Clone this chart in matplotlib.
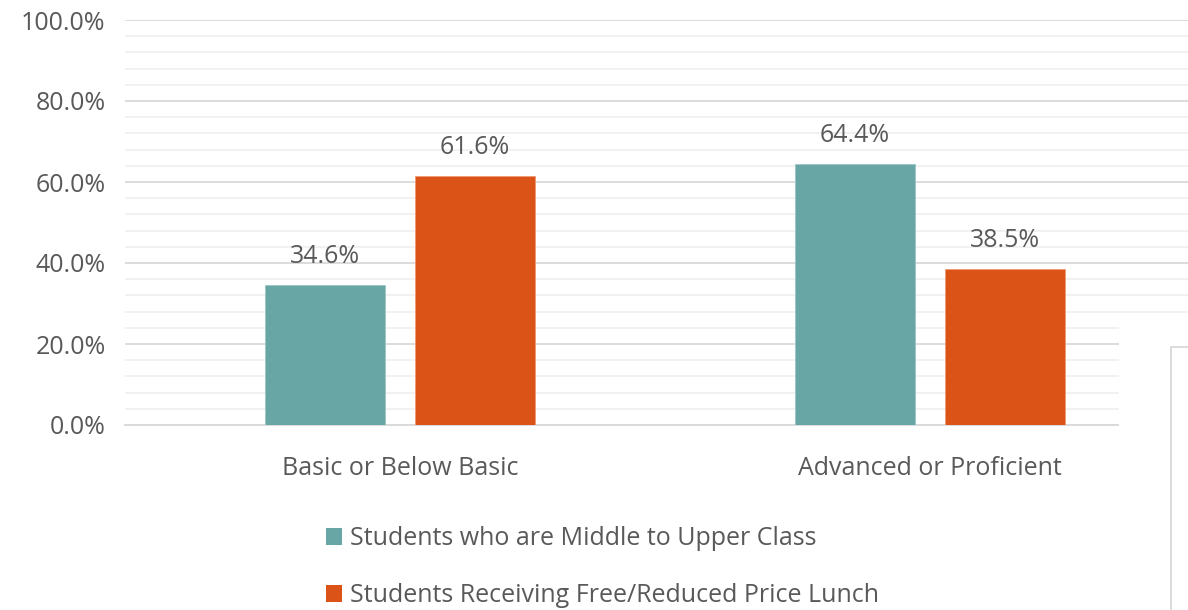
import matplotlib.pyplot as plt
from matplotlib.patches import Patch, Rectangle
from matplotlib.lines import Line2D
from matplotlib.ticker import MultipleLocator, PercentFormatter

plt.rcParams['font.family'] = ['Open Sans', 'DejaVu Sans']

# data
categories = ['Basic or Below Basic', 'Advanced or Proficient']
middle_upper = [34.6, 64.4]
free_lunch = [61.6, 38.5]
series_names = ['Students who are Middle to Upper Class',
                'Students Receiving Free/Reduced Price Lunch']

teal = '#68a5a5'
orange = '#dc5318'
text_gray = '#595959'

fig = plt.figure(figsize=(11.88, 6.10), dpi=100)
ax = fig.add_axes([125 / 1188, 185 / 610, 1063 / 1188, 405 / 610])

x = [0.5, 1.5]
w = 0.226
off = 0.1415
b1 = ax.bar([v - off for v in x], middle_upper, w, color=teal, edgecolor='#9cc6c6', linewidth=0.6, zorder=3)
b2 = ax.bar([v + off for v in x], free_lunch, w, color=orange, edgecolor='#ee9a74', linewidth=0.6, zorder=3)

for bars, vals in [(b1, middle_upper), (b2, free_lunch)]:
    for r, v in zip(bars, vals):
        ax.annotate(f'{v:.1f}%', (r.get_x() + r.get_width() / 2, v),
                    xytext=(0, 22), textcoords='offset pixels',
                    ha='center', va='baseline', fontsize=18, color=text_gray)

ax.set_xlim(-0.019, 1.987)
ax.set_ylim(0, 100)
ax.yaxis.set_major_locator(MultipleLocator(20))
ax.yaxis.set_minor_locator(MultipleLocator(4))
ax.yaxis.set_major_formatter(PercentFormatter(decimals=1))
ax.grid(axis='y', which='major', color='#d9d9d9', linewidth=1.3, zorder=0)
ax.grid(axis='y', which='minor', color='#efefef', linewidth=1.2, zorder=0)
ax.set_xticks(x)
ax.set_xticklabels(categories)
ax.tick_params(axis='x', length=0, pad=22, labelsize=18, labelcolor=text_gray)
ax.tick_params(axis='y', which='both', length=0, pad=14, labelsize=18, labelcolor=text_gray)
for s in ['top', 'right', 'left']:
    ax.spines[s].set_visible(False)
ax.spines['bottom'].set_color('#d9d9d9')
ax.spines['bottom'].set_linewidth(1.3)

handles = [Patch(facecolor=teal), Patch(facecolor=orange)]
fig.legend(handles, series_names, loc='upper left', bbox_to_anchor=(316 / 1188, 1 - 516 / 610),
           frameon=False, fontsize=18, labelcolor=text_gray, handlelength=0.65, handleheight=0.65,
           handletextpad=0.3, labelspacing=1.3, borderaxespad=0)

# overlapping panel in the lower right corner of the screenshot
fig.add_artist(Rectangle((1119 / 1188, 0), 1, 284 / 610, transform=fig.transFigure,
                         facecolor='white', edgecolor='none', zorder=5))
fig.add_artist(Line2D([1171 / 1188, 1171 / 1188, 1], [0, 263 / 610, 263 / 610],
                      transform=fig.transFigure, color='#d9d9d9', linewidth=1.3, zorder=6))

fig.savefig('out.png', dpi=100)
